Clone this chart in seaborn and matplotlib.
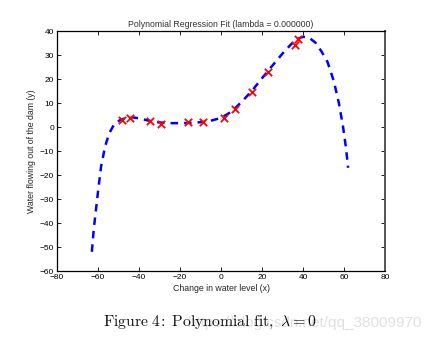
import matplotlib
matplotlib.use("Agg")
import matplotlib.pyplot as plt
import seaborn as sns
import pandas as pd

# training data (red crosses)
train_x = [-15.94, -29.15, 36.19, 37.49, -48.06, -8.94, 15.31, -34.71, 1.39, -44.38, 7.01, 22.76]
train_y = [2.13, 1.17, 34.36, 36.84, 2.81, 2.12, 14.71, 2.61, 3.74, 3.73, 7.63, 22.75]

# fitted curve (blue dashed)
fit_x = [-63, -62, -60, -58.5, -56.5, -54.5, -52, -49, -46, -43, -40, -35, -30, -25, -20,
         -15, -10, -5, 0, 5, 10, 15, 20, 25, 30, 34, 37, 40, 43, 46, 49, 52, 55, 57.5,
         59.5, 61, 62]
fit_y = [-52, -42, -27, -16.5, -8, -2.6, 1.3, 3.0, 3.8, 4.0, 3.6, 2.6, 1.9, 1.6, 1.6,
         1.7, 2.0, 2.6, 3.8, 6.3, 10.4, 15.0, 20.3, 25.5, 30.6, 34.3, 36.6, 37.6, 37.2,
         35.2, 31.5, 27.0, 19.2, 10.0, 0.3, -8.9, -17.0]

x_ticks = [-80, -60, -40, -20, 0, 20, 40, 60, 80]
y_ticks = [-60, -50, -40, -30, -20, -10, 0, 10, 20, 30, 40]

title = "Polynomial Regression Fit (lambda = 0.000000)"
xlabel = "Change in water level (x)"
ylabel = "Water flowing out of the dam (y)"
caption = r"$\mathrm{Figure\ 4\!:\ Polynomial\ fit,}\ \lambda = 0$"
watermark = "https://blog.csdn.net/qq_38009970"

sns.set_theme(style="white")
plt.rcParams['font.family'] = ['Liberation Sans', 'DejaVu Sans']
plt.rcParams['mathtext.fontset'] = 'cm'

W, H = 440, 348
fig = plt.figure(figsize=(W / 100, H / 100), dpi=100)
fig.patch.set_facecolor("white")
ax = fig.add_axes([57 / W, 1 - 271 / H, (385 - 57) / W, (271 - 31) / H])
ax.set_facecolor("white")

fit_df = pd.DataFrame({"x": fit_x, "y": fit_y})
train_df = pd.DataFrame({"x": train_x, "y": train_y})

sns.lineplot(data=fit_df, x="x", y="y", ax=ax, color="#0000ff", linewidth=1.8,
             sort=False, estimator=None)
ax.lines[0].set_dashes([3.0, 2.4])
sns.scatterplot(data=train_df, x="x", y="y", ax=ax, marker="x", color="red",
                s=28, linewidth=1.3, zorder=5)

ax.set_xlim(-80, 80)
ax.set_ylim(-60, 40)
ax.set_xticks(x_ticks)
ax.set_yticks(y_ticks)
ax.set_xticklabels([str(v).replace("-", "\u2212") for v in x_ticks])
ax.set_yticklabels([str(v).replace("-", "\u2212") for v in y_ticks])
ax.tick_params(direction="in", length=3, width=0.6, labelsize=6, pad=2,
               top=True, right=True, bottom=True, left=True, colors="black")
for s in ax.spines.values():
    s.set_color("black")
    s.set_linewidth(0.9)
ax.spines["right"].set_color("#555555")
ax.spines["right"].set_linewidth(1.4)

ax.set_xlabel(xlabel, fontsize=6.3, labelpad=2)
ax.set_ylabel(ylabel, fontsize=6.3, labelpad=3)
ax.set_title(title, fontsize=6.3, pad=3, color="#333333")

fig.text(188 / W, 1 - 323 / H, watermark, fontsize=11, va="center", ha="left",
         color="#e0e0e0", zorder=0)
fig.text(103 / W, 1 - 322 / H, caption, fontsize=11.3,
         va="center", ha="left", color="#111111", zorder=2)

fig.savefig("out.png", dpi=100, facecolor="white")
